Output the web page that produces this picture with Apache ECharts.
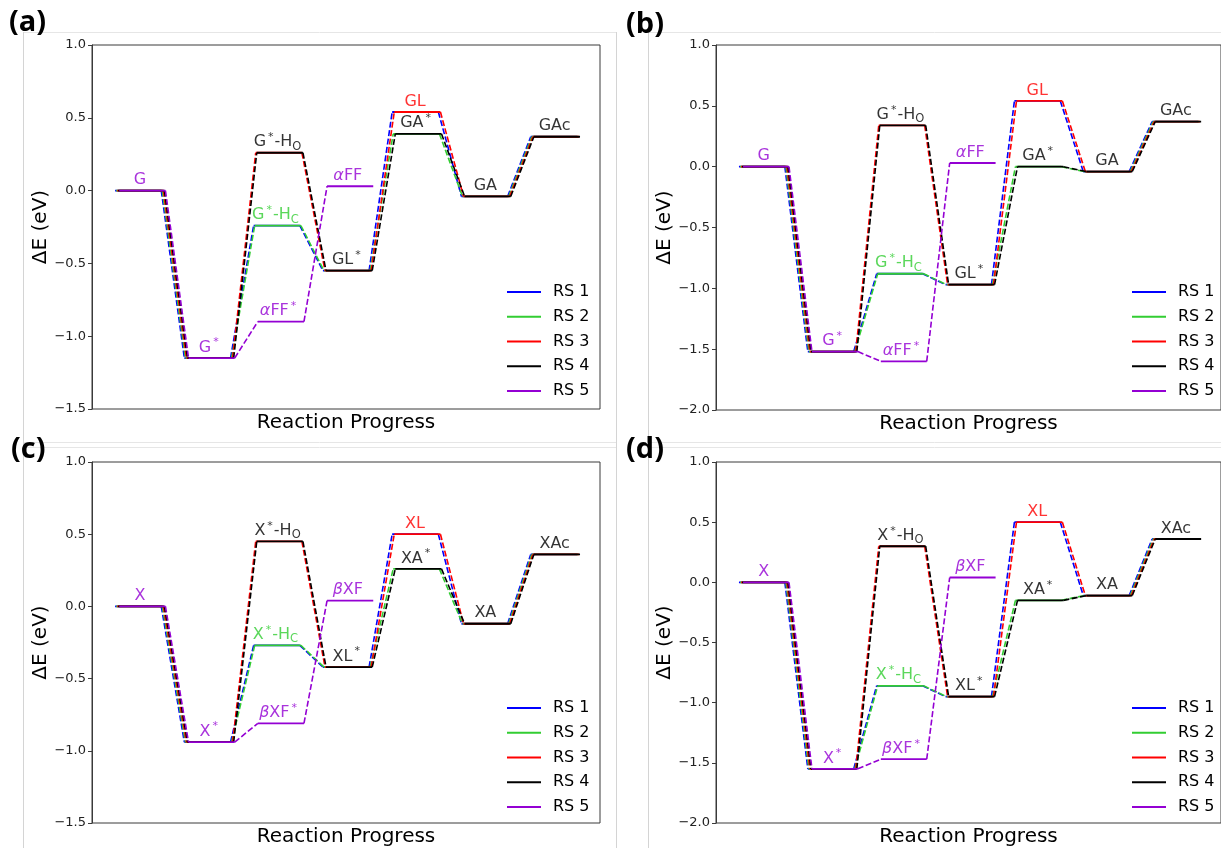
<!DOCTYPE html>
<html><head><meta charset="utf-8">
<script src="https://cdn.jsdelivr.net/npm/echarts@6/dist/echarts.min.js"></script>
<style>html,body{margin:0;padding:0;background:#fff;} #c{width:1221px;height:848px;}</style>
</head><body><div id="c"></div>
<script>
// ---------------- data ----------------
const seriesNames = ['RS 1', 'RS 2', 'RS 3', 'RS 4', 'RS 5'];
const seriesColors = ['#0000FF', '#32CD32', '#FF0000', '#000000', '#9400D3'];
const panelLetters = ['(a)', '(b)', '(c)', '(d)'];
const yMins = [-1.5, -2.0, -1.5, -2.0];
const yMax = 1.0;
const yInterval = 0.5;

// steps: start, adsorbed, hydrogenated, lactone*, lactone / acid*, acid, acid (gas)
// panel (a)
const rs1A = [0.00, -1.15, -0.24, -0.55, 0.54, -0.04, 0.37];
const rs2A = [0.00, -1.15, -0.24, -0.55, 0.39, -0.04, 0.37];
const rs3A = [0.00, -1.15, 0.26, -0.55, 0.54, -0.04, 0.37];
const rs4A = [0.00, -1.15, 0.26, -0.55, 0.39, -0.04, 0.37];
const rs5A = [0.00, -1.15, -0.90, 0.03];
// panel (b)
const rs1B = [0.00, -1.52, -0.88, -0.97, 0.54, -0.04, 0.37];
const rs2B = [0.00, -1.52, -0.88, -0.97, 0.00, -0.04, 0.37];
const rs3B = [0.00, -1.52, 0.34, -0.97, 0.54, -0.04, 0.37];
const rs4B = [0.00, -1.52, 0.34, -0.97, 0.00, -0.04, 0.37];
const rs5B = [0.00, -1.52, -1.60, 0.03];
// panel (c)
const rs1C = [0.00, -0.94, -0.27, -0.42, 0.50, -0.12, 0.36];
const rs2C = [0.00, -0.94, -0.27, -0.42, 0.26, -0.12, 0.36];
const rs3C = [0.00, -0.94, 0.45, -0.42, 0.50, -0.12, 0.36];
const rs4C = [0.00, -0.94, 0.45, -0.42, 0.26, -0.12, 0.36];
const rs5C = [0.00, -0.94, -0.81, 0.04];
// panel (d)
const rs1D = [0.00, -1.55, -0.86, -0.95, 0.50, -0.11, 0.36];
const rs2D = [0.00, -1.55, -0.86, -0.95, -0.15, -0.11, 0.36];
const rs3D = [0.00, -1.55, 0.30, -0.95, 0.50, -0.11, 0.36];
const rs4D = [0.00, -1.55, 0.30, -0.95, -0.15, -0.11, 0.36];
const rs5D = [0.00, -1.55, -1.47, 0.04];

// state labels
const labelsG = ['G', 'G{sup|*}', 'G{sup|*}-H{sub|O}', 'G{sup|*}-H{sub|C}', '{it|α}FF{sup|*}', 'GL{sup|*}', '{it|α}FF', 'GL', 'GA{sup|*}', 'GA', 'GAc'];
const labelsX = ['X', 'X{sup|*}', 'X{sup|*}-H{sub|O}', 'X{sup|*}-H{sub|C}', '{it|β}XF{sup|*}', 'XL{sup|*}', '{it|β}XF', 'XL', 'XA{sup|*}', 'XA', 'XAc'];
const labelSeries = [4, 4, 3, 1, 4, 3, 4, 2, 3, 3, 3];
const labelStep = [0, 1, 2, 2, 2, 3, 3, 4, 4, 5, 6];

const panelData = [
  [rs1A, rs2A, rs3A, rs4A, rs5A],
  [rs1B, rs2B, rs3B, rs4B, rs5B],
  [rs1C, rs2C, rs3C, rs4C, rs5C],
  [rs1D, rs2D, rs3D, rs4D, rs5D]
];
const panelLabels = [labelsG, labelsG, labelsX, labelsX];

// ---------------- layout ----------------
const FONT = 'DejaVu Sans';
const grids = [
  {left: 92, top: 45, width: 508, height: 364},
  {left: 716, top: 45, width: 508, height: 365},
  {left: 92, top: 462, width: 508, height: 363},
  {left: 716, top: 462, width: 508, height: 364}
];
const legendPos = [[502, 278], [1127, 278], [502, 694], [1127, 694]];
const letterPos = [[9, 8], [626, 10], [11, 435], [626, 435]];
const LEVEL = 2, GAP = 1, OFF = 0.045;

function solidData(vals, off) {
  const d = [];
  vals.forEach((v, k) => { d.push([(LEVEL + GAP) * k + off, v], [(LEVEL + GAP) * k + LEVEL + off, v], '-'); });
  return d;
}
function dashData(vals, off) {
  const d = [];
  for (let k = 0; k < vals.length - 1; k++) {
    d.push([(LEVEL + GAP) * k + LEVEL + off, vals[k]], [(LEVEL + GAP) * (k + 1) + off, vals[k + 1]], '-');
  }
  return d;
}
function richFor(color) {
  return {
    sup: {fontSize: 11, color: color, fontFamily: FONT, verticalAlign: 'top', lineHeight: 12, padding: [0, 1, 0, 2]},
    sub: {fontSize: 11.5, color: color, fontFamily: FONT, verticalAlign: 'bottom', lineHeight: 13},
    it: {fontSize: 16, color: color, fontFamily: FONT, fontStyle: 'italic', lineHeight: 21}
  };
}
const fmtTick = v => (v < 0 ? '\u2212' : '') + Math.abs(v).toFixed(1);

const series = [];
panelData.forEach((sets, p) => {
  sets.forEach((vals, r) => {
    const off = OFF * r;
    series.push({
      type: 'line', name: seriesNames[r], xAxisIndex: p, yAxisIndex: p,
      data: solidData(vals, off), symbol: 'none', silent: true, animation: false,
      lineStyle: {color: seriesColors[r], width: 1.8, cap: 'butt'}, itemStyle: {color: seriesColors[r]}
    });
    series.push({
      type: 'line', name: seriesNames[r] + ' path', xAxisIndex: p, yAxisIndex: p,
      data: dashData(vals, off), symbol: 'none', silent: true, animation: false,
      lineStyle: {color: seriesColors[r], width: 1.6, type: [6, 2.5], cap: 'butt'}
    });
  });
  const lbls = panelLabels[p].map((txt, i) => {
    const r = labelSeries[i], k = labelStep[i];
    const color = seriesColors[r];
    return {
      value: [(LEVEL + GAP) * k + LEVEL / 2 + OFF * r - 0.1, sets[r][k]],
      label: {formatter: txt, color: color, rich: richFor(color)}
    };
  });
  series.push({
    type: 'scatter', xAxisIndex: p, yAxisIndex: p, symbolSize: 0, silent: true, animation: false, z: 5,
    data: lbls,
    label: {show: true, position: 'top', distance: 0, fontSize: 16, fontFamily: FONT, lineHeight: 21}
  });
});

const graphic = [];
panelLetters.forEach((t, i) => {
  graphic.push({type: 'text', left: letterPos[i][0], top: letterPos[i][1], z: 10,
    style: {text: t, font: 'bold 29px "Open Sans"', fill: '#000'}});
});
// faint figure borders
[[23, 32, 616, 32], [648, 32, 1221, 32], [23, 442, 616, 442], [648, 442, 1221, 442],
 [23, 447, 616, 447], [648, 447, 1221, 447]].forEach(s => graphic.push({type: 'line', shape: {x1: s[0], y1: s[1] + 0.5, x2: s[2], y2: s[3] + 0.5}, style: {stroke: '#e6e6e6', lineWidth: 1}, silent: true}));
[[23, 32, 23, 848], [616, 32, 616, 848], [648, 32, 648, 848]].forEach(s => graphic.push({type: 'line', shape: {x1: s[0] + 0.5, y1: s[1], x2: s[2] + 0.5, y2: s[3]}, style: {stroke: '#d4d4d4', lineWidth: 1}, silent: true}));

const option = {
  backgroundColor: '#fff',
  animation: false,
  grid: grids.map(g => Object.assign({show: true, borderColor: '#3a3a3a', borderWidth: 1, backgroundColor: 'transparent'}, g)),
  xAxis: grids.map((g, i) => ({
    gridIndex: i, type: 'value', min: -1, max: 21,
    axisLine: {show: false, onZero: false}, axisTick: {show: false}, axisLabel: {show: false}, splitLine: {show: false},
    name: 'Reaction Progress', nameLocation: 'middle', nameGap: 4,
    nameTextStyle: {fontSize: 20, fontFamily: FONT, color: '#000'}
  })),
  yAxis: grids.map((g, i) => ({
    gridIndex: i, type: 'value', min: yMins[i], max: yMax, interval: yInterval,
    axisLine: {show: true, onZero: false, lineStyle: {color: '#3a3a3a', width: 1}}, splitLine: {show: false},
    axisTick: {show: true, inside: false, length: 4, lineStyle: {color: '#3a3a3a', width: 1}},
    axisLabel: {fontSize: 13, fontFamily: FONT, color: '#222', margin: 6, formatter: fmtTick},
    name: 'ΔE (eV)', nameLocation: 'middle', nameRotate: 90, nameGap: 38,
    nameTextStyle: {fontSize: 20, fontFamily: FONT, color: '#000'}
  })),
  legend: legendPos.map(pos => ({
    data: seriesNames.map(n => ({name: n, icon: 'rect'})), orient: 'vertical', left: pos[0], top: pos[1],
    itemWidth: 34, itemHeight: 2, itemGap: 6.75, selectedMode: false,
    textStyle: {fontSize: 16, fontFamily: FONT, color: '#000', lineHeight: 18, padding: [0, 0, 0, 7]}
  })),
  graphic: graphic,
  series: series
};
const chart = echarts.init(document.getElementById('c'), null, {renderer: 'canvas'});
chart.setOption(option);
</script></body></html>
